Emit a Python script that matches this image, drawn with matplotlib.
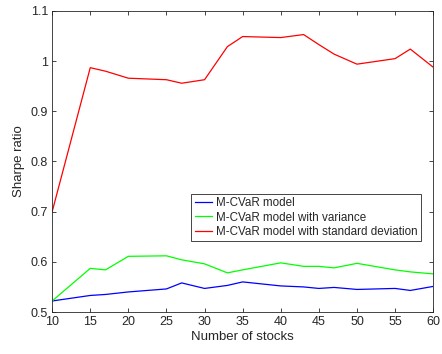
import matplotlib
matplotlib.use("Agg")
import matplotlib.pyplot as plt

# Data
n_stocks = [10, 15, 17, 20, 25, 27, 30, 33, 35, 40, 43, 45, 47, 50, 55, 57, 60]
mcvar = [0.522, 0.533, 0.535, 0.540, 0.546, 0.558, 0.547, 0.553, 0.560, 0.552,
         0.550, 0.547, 0.549, 0.545, 0.547, 0.543, 0.551]
mcvar_var = [0.522, 0.587, 0.584, 0.611, 0.612, 0.604, 0.596, 0.578, 0.584, 0.598,
             0.591, 0.591, 0.588, 0.597, 0.584, 0.580, 0.576]
mcvar_std = [0.700, 0.987, 0.980, 0.966, 0.963, 0.956, 0.963, 1.029, 1.049, 1.047,
             1.053, 1.033, 1.014, 0.994, 1.005, 1.024, 0.988]

labels = ["M-CVaR model", "M-CVaR model with variance",
          "M-CVaR model with standard deviation"]

plt.rcParams['font.family'] = ['Liberation Sans', 'DejaVu Sans']
dark = '#262626'

fig = plt.figure(figsize=(4.42, 3.54), dpi=100)
ax = fig.add_axes([0.118, 0.1186, 0.862, 0.8504])

ax.plot(n_stocks, mcvar, color='#0000ff', lw=0.9, label=labels[0])
ax.plot(n_stocks, mcvar_var, color='#00ff00', lw=0.9, label=labels[1])
ax.plot(n_stocks, mcvar_std, color='#ff0000', lw=0.9, label=labels[2])

ax.set_xlim(10, 60)
ax.set_ylim(0.5, 1.1)
ax.set_xticks(range(10, 61, 5))
ax.set_yticks([0.5, 0.6, 0.7, 0.8, 0.9, 1.0, 1.1])
ax.set_yticklabels(['0.5', '0.6', '0.7', '0.8', '0.9', '1', '1.1'])

ax.tick_params(direction='in', top=True, right=True, length=3, width=0.6,
               labelsize=9, colors=dark, pad=3)
for s in ax.spines.values():
    s.set_color(dark)
    s.set_linewidth(0.6)

ax.set_xlabel('Number of stocks', fontsize=9.5, color=dark, labelpad=2)
ax.set_ylabel('Sharpe ratio', fontsize=9.5, color=dark, labelpad=4)

leg = ax.legend(loc='upper left', bbox_to_anchor=(0.365, 0.393), fontsize=8.4,
                frameon=True, fancybox=False, edgecolor=dark, framealpha=1,
                handlelength=1.5, handletextpad=0.3, borderpad=0.3,
                labelspacing=0.2, borderaxespad=0)
leg.get_frame().set_linewidth(0.6)
for t in leg.get_texts():
    t.set_color(dark)

fig.savefig('out.png', dpi=100)
